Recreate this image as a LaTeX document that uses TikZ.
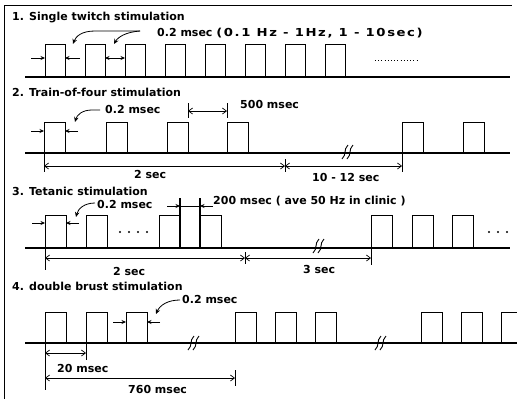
\documentclass[tikz,border=0pt]{standalone}
\usepackage{fontspec}
\usepackage{graphicx}
\setmainfont{DejaVu Sans}
\usetikzlibrary{arrows.meta}
\tikzset{
  lab/.style={font=\bfseries\fontsize{11}{13}\selectfont, inner sep=0pt, anchor=base west},
  pulse/.style={line width=0.9pt},
  baseln/.style={line width=1.1pt},
  ptr/.style={line width=0.8pt, -{Stealth[length=5pt,width=4.5pt]}},
  edgearr/.style={line width=0.8pt, -{Stealth[length=4.5pt,width=4pt]}},
  dbl/.style={line width=0.8pt, {Stealth[length=4.5pt,width=4pt]}-{Stealth[length=4.5pt,width=4pt]}},
  dimarr/.style={line width=0.7pt, {Straight Barb[length=4pt,width=6pt]}-{Straight Barb[length=4pt,width=6pt]}},
  tickln/.style={line width=0.7pt},
  brk/.pic={
    \draw[line width=0.9pt] (-5,7) .. controls (0,2) and (-4,-2) .. (1,-7);
    \draw[line width=0.9pt] (0,7) .. controls (5,2) and (1,-2) .. (6,-7);
  }
}
\begin{document}
\begin{tikzpicture}[x=1pt,y=-1pt]
\useasboundingbox (0,0) rectangle (517,399);
\fill[white] (0,0) rectangle (517,399);
\clip (0,0) rectangle (517,399);
% frame
\draw[line width=1pt] (4,399) -- (4,5) -- (512,5);
% titles
\node[lab] (t1) at (12,20) {1. Single twitch stimulation};
\node[lab] (t2) at (12,96) {2. Train-of-four stimulation};
\node[lab] (t3) at (12,195) {3. Tetanic stimulation};
\node[lab] (t4) at (12,290) {4. double brust stimulation};
% ---------- row 1
\draw[baseln] (25,77) -- (510,77);
\foreach \x in {45,85,125,165,205,245,285,325}
  \draw[pulse] (\x,77) |- (\x+20,44) -- (\x+20,77);
\draw[line width=0.8pt, dash pattern=on 1pt off 2.2pt] (375,60) -- (417,60);
\node[lab] (l1) at (157,36) {0.2 msec \scalebox{1.2}[1]{\addfontfeature{LetterSpace=12}(0.1 Hz - 1Hz, 1 - 10sec)}};
\draw[ptr] (140,31) -- (95,31) .. controls (82,31) and (76,36) .. (73,44);
\draw[ptr] (140,31) .. controls (126,32) and (118,37) .. (114,44);
\draw[edgearr] (31,58) -- (45,58);
\draw[edgearr] (80,58) -- (65,58);
\draw[dbl] (105,58) -- (125,58);
% ---------- row 2
\draw[baseln] (25,153) -- (510,153);
\foreach \x in {44,106,167,227,402,463}
  \draw[pulse] (\x,153) |- (\x+21,122) -- (\x+21,153);
\node[lab] (l2) at (105,113) {0.2 msec};
\draw[ptr] (100,110) -- (92,110) .. controls (82,110) and (77,115) .. (75,122);
\draw[edgearr] (31,131) -- (44,131);
\draw[edgearr] (78,131) -- (65,131);
\node[lab] (l3) at (240,108) {500 msec};
\draw[tickln] (188,103) -- (188,118);
\draw[tickln] (227,103) -- (227,118);
\draw[dimarr] (188,111) -- (227,111);
\draw[tickln] (44,153) -- (44,172);
\draw[tickln] (285,159) -- (285,172);
\draw[tickln] (402,153) -- (402,172);
\draw[dimarr] (44,166) -- (285,166);
\draw[dimarr] (285,166) -- (402,166);
\node[lab] (l4) at (134,178) {2 sec};
\node[lab] (l5) at (312,181) {10 - 12 sec};
\pic at (347,152) {brk};
% ---------- row 3
\draw[baseln] (25,248) -- (510,248);
\foreach \x in {45,86,159,200,371,412,452}
  \draw[pulse] (\x,248) |- (\x+21,215) -- (\x+21,248);
\draw[line width=1.3pt] (180,198) -- (180,248);
\draw[line width=1.3pt] (200,198) -- (200,248);
\draw[line width=0.8pt] (180,206) -- (200,206);
\draw[edgearr] (167,206) -- (180,206);
\draw[edgearr] (213,206) -- (200,206);
\foreach \x in {120,129,138,147} \fill (\x,232) circle (1.1);
\foreach \x in {489,498,507} \fill (\x,232) circle (1.1);
\node[lab] (l6) at (97,208) {0.2 msec};
\draw[ptr] (95,203) .. controls (84,203) and (78,209) .. (76,217);
\draw[edgearr] (32,223) -- (45,223);
\draw[edgearr] (79,223) -- (66,223);
\node[lab] (l7) at (213,204) {200 msec ( ave 50 Hz in clinic )};
\draw[tickln] (45,248) -- (45,270);
\draw[tickln] (245,252) -- (245,264);
\draw[tickln] (371,248) -- (371,265);
\draw[dimarr] (45,258) -- (245,258);
\draw[dimarr] (245,258) -- (371,258);
\node[lab] (l8) at (113,275) {2 sec};
\node[lab] (l9) at (303,273) {3 sec};
\pic at (318,246) {brk};
% ---------- row 4
\draw[baseln] (25,343) -- (517,343);
\foreach \x in {45,86,126,235,275,315,421,461,501}
  \draw[pulse] (\x,343) |- (\x+21,312) -- (\x+21,343);
\pic at (193,343) {brk};
\pic at (380,343) {brk};
\node[lab] (l10) at (182,303) {0.2 msec};
\draw[ptr] (180,300) .. controls (168,300) and (160,305) .. (156,314);
\draw[edgearr] (113,322) -- (126,322);
\draw[edgearr] (160,322) -- (147,322);
\draw[tickln] (45,343) -- (45,390);
\draw[tickln] (86,343) -- (86,360);
\draw[tickln] (235,370) -- (235,386);
\draw[dimarr] (45,353) -- (86,353);
\draw[dimarr] (45,378) -- (235,378);
\node[lab] (l11) at (57,372) {20 msec};
\node[lab] (l12) at (128,393) {760 msec};
\end{tikzpicture}
\end{document}
